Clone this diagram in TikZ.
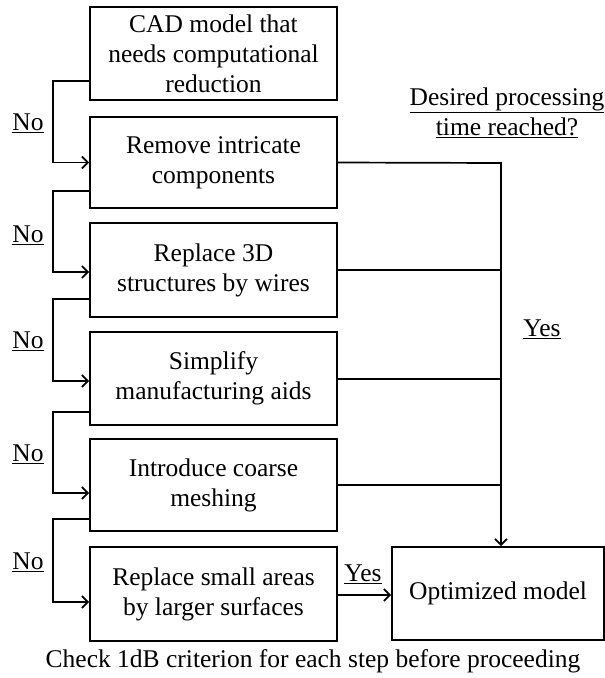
\documentclass[tikz,border=0pt]{standalone}
\usepackage{fontspec}
\setmainfont{Liberation Serif}
\usetikzlibrary{arrows.meta}
\begin{document}
\begin{tikzpicture}[x=1pt,y=-1pt,
  font=\fontsize{25.5}{30}\selectfont,
  stepbox/.style={draw,line width=1.8pt,minimum width=247pt,minimum height=93pt,inner sep=0pt,align=center},
  conn/.style={line width=1.7pt},
  arr/.style={conn,-{Straight Barb[length=6pt,width=12pt,line width=1.7pt]}},
  lbl/.style={inner sep=0pt}]
\useasboundingbox (0,0) rectangle (605,678);
\node[stepbox] (b1) at (213.5,53.5) {CAD model that\\needs computational\\reduction};
\node[stepbox,minimum height=91pt] (b2) at (213.5,162.5) {Remove intricate\\components};
\node[stepbox,minimum height=94pt] (b3) at (213.5,270) {Replace 3D\\structures by wires};
\node[stepbox] (b4) at (213.5,378.5) {Simplify\\manufacturing aids};
\node[stepbox,minimum height=92pt] (b5) at (213.5,485) {Introduce coarse\\meshing};
\node[stepbox,minimum height=94pt] (b6) at (213.5,594) {Replace small areas\\by larger surfaces};
\node[stepbox,minimum width=212pt] (opt) at (498,593.5) {Optimized model};
% left "No" connectors
\draw[arr] ([yshift=20pt]b1.south west) -- ++(-36,0) |- (b2.west);
\draw[arr] ([yshift=18pt]b2.south west) -- ++(-36,0) |- ([yshift=-2pt]b3.west);
\draw[arr] ([yshift=19pt]b3.south west) -- ++(-36,0) |- ([yshift=-2.5pt]b4.west);
\draw[arr] ([yshift=14pt]b4.south west) -- ++(-36,0) |- ([yshift=-8pt]b5.west);
\draw[arr] ([yshift=13pt]b5.south west) -- ++(-36,0) |- ([yshift=-8pt]b6.west);
\node[lbl] (n1) at (28,123) {\underline{No}};
\node[lbl] (n2) at (28,235) {\underline{No}};
\node[lbl] (n3) at (28,341) {\underline{No}};
\node[lbl] (n4) at (28,454) {\underline{No}};
\node[lbl] (n5) at (28,562) {\underline{No}};
% right "Yes" connectors
\coordinate (top) at (501,163);
\draw[conn] (b2.east) -- (top);
\draw[conn] (b3.east) -- (b3.east -| top);
\draw[conn] ([yshift=-0.5pt]b4.east) -- ([yshift=-0.5pt]b4.east -| top);
\draw[conn] (b5.east) -- (b5.east -| top);
\draw[arr] ([yshift=0.85pt]top) -- (opt.north -| top);
\draw[arr] ([yshift=-1pt]b6.east) -- ([yshift=-1pt]b6.east -| opt.west);
\node[lbl] (y1) at (542,329) {\underline{Yes}};
\node[lbl] (y2) at (363,574) {\underline{Yes}};
\node[lbl,align=center] (q) at (507,113) {\underline{Desired processing}\\\underline{time reached?}};
\node[lbl] (cap) at (313,661) {Check 1dB criterion for each step before proceeding};
\end{tikzpicture}
\end{document}
